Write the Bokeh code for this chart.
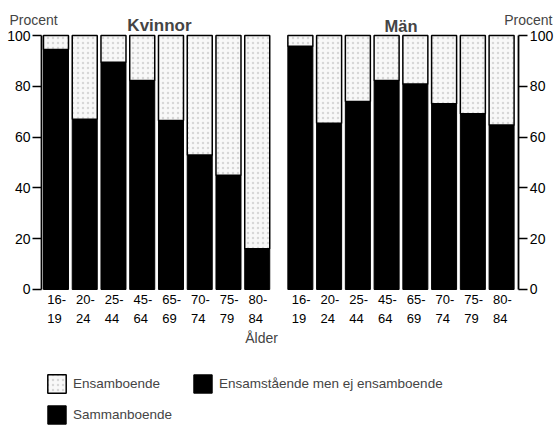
import numpy as np
from bokeh.plotting import figure
from bokeh.models import (Range1d, LinearAxis, FixedTicker, Label, Legend,
                          LegendItem, ColumnDataSource)
from bokeh.core.properties import value
from bokeh.embed import file_html
from bokeh.resources import INLINE

# ---- data ----
ages = ["16-19", "20-24", "25-44", "45-64", "65-69", "70-74", "75-79", "80-84"]
# share (%) not living alone (Sammanboende + Ensamstående men ej ensamboende, black)
kvinnor_ej_ensamboende = [94.5, 67.0, 89.5, 82.3, 66.5, 53.0, 45.0, 16.0]
man_ej_ensamboende = [95.8, 65.5, 74.0, 82.3, 80.9, 73.1, 69.2, 64.8]
# share (%) living alone (Ensamboende, light)
kvinnor_ensamboende = [5.5, 33.0, 10.5, 17.7, 33.5, 47.0, 55.0, 84.0]
man_ensamboende = [4.2, 34.5, 26.0, 17.7, 19.1, 26.9, 30.8, 35.2]
y_ticks = [0, 20, 40, 60, 80, 100]
panel_titles = ["Kvinnor", "Män"]
legend_labels = ["Ensamboende", "Ensamstående men ej ensamboende", "Sammanboende"]

FONT = "Liberation Sans"
W, H = 554, 426
n = len(ages)
gap = 0.5
x_k = np.arange(n, dtype=float)
x_m = np.arange(n, dtype=float) + n + gap
xs = np.concatenate([x_k, x_m])
black = np.array(kvinnor_ej_ensamboende + man_ej_ensamboende)
light = np.array(kvinnor_ensamboende + man_ensamboende)

src = ColumnDataSource(dict(x=xs, black=black, top=black + light,
                            zero=np.zeros_like(xs)))

# frame covers the whole canvas: 28.75 px per bar slot, 2.54 px per percent
p = figure(width=W, height=H, output_backend="svg", toolbar_location=None,
           x_range=Range1d(-1.93, 17.34),
           y_range=Range1d(-53.94, 113.78),
           x_axis_location=None, y_axis_location=None,
           min_border_top=0, min_border_bottom=0,
           min_border_left=0, min_border_right=0)
p.outline_line_color = None
for g in p.grid:
    g.visible = False
p.background_fill_color = "white"

bw = 0.87
r_black = p.vbar(x="x", bottom="zero", top="black", width=bw, source=src,
                 fill_color="black", line_color="black", line_width=1)
r_light = p.vbar(x="x", bottom="black", top="top", width=bw, source=src,
                 fill_color="#f8f8f8", line_color="black", line_width=1.5,
                 hatch_pattern="dot", hatch_color="#9a9a9a", hatch_scale=5,
                 hatch_weight=0.8, hatch_alpha=0.35)


def make_axis(loc):
    ax = LinearAxis(fixed_location=loc)
    ax.bounds = (0, 100)
    ax.ticker = FixedTicker(ticks=y_ticks)
    ax.minor_tick_line_color = None
    ax.major_tick_in = 0
    ax.major_tick_out = 9
    ax.major_tick_line_width = 1.3
    ax.axis_line_width = 1.8
    ax.major_label_standoff = 2
    ax.major_label_text_font = FONT
    ax.major_label_text_font_size = "14px"
    ax.major_label_text_color = "black"
    return ax


p.add_layout(make_axis(x_k[0] - 0.5), "left")
p.add_layout(make_axis(x_m[-1] + 0.6), "right")

# age tick labels (two lines) under every bar
tick_text = [a.replace("-", "-\n") for a in ages] * 2
p.text(x=xs - 0.3, y=[-0.8] * len(xs), text=tick_text,
       text_font=value(FONT), text_font_size="13px", text_align="left",
       text_baseline="top", text_line_height=1.3, text_color="black")

# panel titles
p.add_layout(Label(x=x_k.mean() + 0.1, y=103.9, text=panel_titles[0],
                   text_font=FONT, text_font_size="17px",
                   text_font_style="bold", text_align="center",
                   text_baseline="alphabetic"))
p.add_layout(Label(x=x_m.mean(), y=103.9, text=panel_titles[1],
                   text_font=FONT, text_font_size="16.5px",
                   text_font_style="bold", text_align="center",
                   text_baseline="alphabetic"))
# "Procent" labels
p.add_layout(Label(x=-0.78, y=106.1, text="Procent", text_font=FONT,
                   text_font_size="14px", text_align="center",
                   text_baseline="alphabetic"))
p.add_layout(Label(x=16.43, y=106.1, text="Procent", text_font=FONT,
                   text_font_size="14px", text_align="center",
                   text_baseline="alphabetic"))
# x axis title
p.add_layout(Label(x=7.15, y=-16.1, text="Ålder", text_font=FONT,
                   text_font_size="14px", text_align="center",
                   text_baseline="top"))

legend = Legend(items=[
    LegendItem(label=legend_labels[0], renderers=[r_light]),
    LegendItem(label=legend_labels[1], renderers=[r_black]),
    LegendItem(label=legend_labels[2], renderers=[r_black]),
], location=(45, 0), orientation="horizontal", ncols=2,
    glyph_width=23, glyph_height=23, label_width=110, spacing=8,
    padding=0, margin=0, border_line_color=None, background_fill_alpha=0,
    label_text_font=FONT, label_text_font_size="13.5px", label_standoff=5)
p.add_layout(legend)

open("out.html", "w").write(file_html(p, INLINE))
